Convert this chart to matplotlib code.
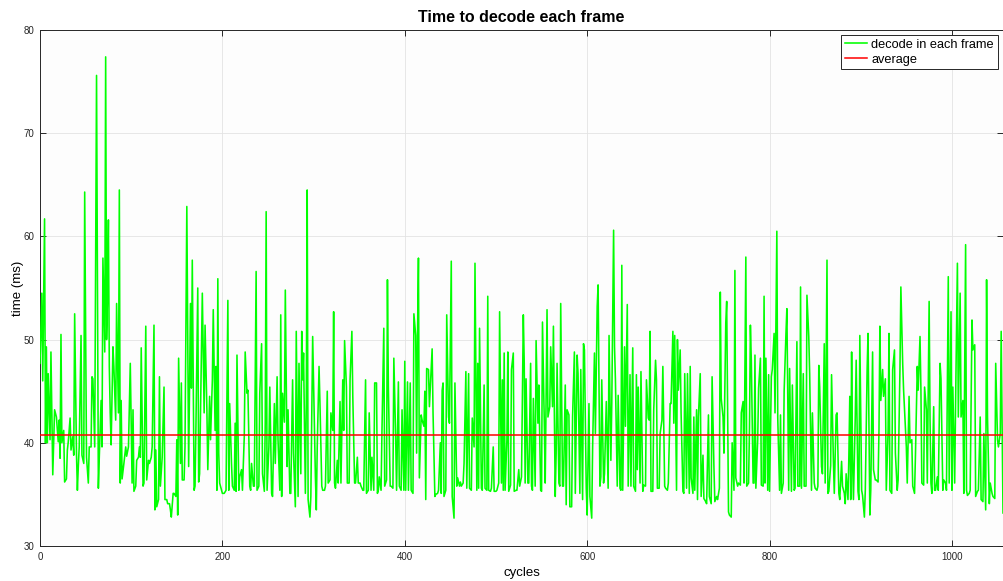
import matplotlib
matplotlib.use("Agg")
import matplotlib.pyplot as plt

plt.rcParams['font.family'] = ['Liberation Sans', 'DejaVu Sans']

cycles = [
    0, 2, 3, 5, 6, 7, 8, 9, 11, 12,
    13, 14, 16, 18, 20, 21, 22, 23, 24, 26,
    27, 29, 30, 31, 33, 34, 36, 37, 38, 40,
    41, 42, 43, 45, 46, 48, 49, 51, 53, 54,
    56, 57, 58, 60, 62, 64, 65, 67, 68, 69,
    71, 72, 73, 74, 75, 76, 77, 78, 80, 81,
    83, 84, 86, 87, 88,
    89, 90, 92, 94, 95, 97, 99, 101, 102, 103,
    105, 106, 108, 109, 110, 111, 113, 114, 116, 117,
    119, 120, 122, 123, 125, 126, 127, 128, 130, 131,
    132, 134, 136, 137, 139, 140, 142, 143, 144, 146,
    147, 149, 150, 151, 152, 154, 155, 156, 158, 159,
    161, 162, 163, 165, 166, 167, 169, 170, 171, 173,
    174,
    175, 176, 178, 180, 181, 183, 184, 186, 187, 189,
    190, 192, 193, 194, 195, 196, 197, 200, 202, 204,
    206, 207, 208, 210, 211, 213, 214, 215, 216, 218,
    219, 221, 222, 224, 225, 227, 228, 230, 231, 232,
    234, 235, 237, 238, 240, 241, 243, 244, 246, 247,
    248, 249, 251, 252, 254, 255, 257, 258, 260, 261,
    263, 264,
    265, 266, 268, 269, 271, 272, 274, 275, 277, 278,
    280, 281, 283, 284, 286, 287, 288, 289, 291, 292,
    293, 294, 296, 297, 299, 300, 302, 303, 304, 306,
    307, 309, 310, 312, 313, 315, 316, 318, 319, 321,
    322, 323, 324, 326, 327, 329, 330, 332, 333, 334,
    336, 337, 339, 340, 342, 343, 345, 346, 348, 349,
    351, 352, 354,
    355, 357, 358, 360, 361, 363, 364, 366, 367, 369,
    370, 371, 372, 374, 375, 377, 378, 380, 381, 382,
    384, 385, 387, 388, 390, 391, 393, 394, 396, 397,
    399, 400, 401, 403, 404, 406, 407, 409, 410, 412,
    413, 414, 415, 416, 418, 419, 421, 422, 423, 424,
    426, 427, 429, 430, 431, 433, 434, 436, 437, 439,
    440, 441,
    442, 443, 445, 446, 448, 449, 451, 452, 454, 455,
    457, 458, 460, 461, 462, 464, 465, 467, 468, 470,
    471, 473, 474, 476, 477, 479, 480, 481, 482, 484,
    485, 487, 488, 490, 491, 492, 494, 495, 497, 498,
    500, 501, 503, 504, 506, 507, 508, 509, 510, 512,
    513, 514, 516, 517, 519, 520, 522, 523, 525, 526,
    528, 530,
    531, 532, 533, 535, 536, 538, 539, 540, 541, 543,
    544, 546, 547, 549, 550, 551, 553, 554, 556, 557,
    559, 560, 562, 563, 565, 566, 567, 569, 570, 571,
    573, 574, 576, 577, 578, 580, 581, 583, 584, 586,
    587, 589, 590, 592, 593, 595, 596, 597, 599, 600,
    602, 603, 605, 606, 608, 609, 611, 612, 614, 615,
    616, 618, 619,
    621, 623, 624, 626, 627, 629, 630, 631, 633, 634,
    636, 637, 638, 639, 641, 642, 644, 645, 647, 648,
    650, 651, 653, 654, 655, 656, 658, 659, 661, 662,
    664, 665, 667, 668, 669, 670, 672, 673, 675, 676,
    677, 679, 680, 682, 683, 685, 686, 688, 689, 691,
    692, 694, 695, 696, 698, 699, 700, 702, 703, 705,
    706, 707,
    709, 710, 712, 713, 714, 716, 717, 718, 720, 721,
    722, 724, 725, 727, 728, 730, 731, 733, 734, 736,
    737, 739, 740, 742, 743, 745, 746, 747, 749, 750,
    752, 753, 755, 756, 758, 759, 761, 762, 763, 765,
    766, 768, 769, 771, 772, 774, 775, 777, 778, 779,
    780, 782, 783, 784, 785, 787, 788, 790, 791, 793,
    794, 795, 796,
    798, 799, 800, 802, 803, 805, 806, 808, 809, 811,
    812, 813, 815, 816, 818, 819, 821, 822, 824, 825,
    827, 828, 830, 831, 833, 834, 835, 837, 838, 840,
    841, 843, 844, 846, 847, 849, 850, 852, 853, 854,
    855, 857, 858, 860, 861, 863, 864, 865, 867, 868,
    870, 871, 873, 874, 876, 877, 879, 880, 882, 883,
    884, 886, 887,
    888, 889, 890, 891, 892, 894, 895, 897, 898, 899,
    901, 902, 904, 905, 907, 908, 910, 911, 913, 914,
    916, 917, 919, 920, 921, 922, 924, 925, 927, 928,
    930, 931, 932, 934, 935, 937, 938, 940, 941, 943,
    944, 946, 947, 948, 950, 951, 953, 954, 956, 957,
    959, 960, 962, 963, 965, 966, 967, 969, 970, 972,
    973, 975, 976,
    977, 978, 980, 981, 982, 984, 985, 987, 988, 990,
    991, 993, 994, 996, 997, 999, 1000, 1001, 1003, 1004,
    1006, 1007, 1009, 1010, 1012, 1013, 1015, 1016, 1017, 1019,
    1020, 1022, 1023, 1025, 1026, 1028, 1029, 1031, 1032, 1034,
    1035, 1037, 1038, 1039, 1041, 1042, 1044, 1045, 1047, 1048,
    1050, 1051, 1053, 1054, 1056,
]

decode_ms = [
    47.7, 54.5, 46.0, 61.7, 40.0, 49.3, 40.0, 46.7, 40.3, 48.8,
    42.9, 36.9, 43.2, 42.5, 40.1, 42.2, 38.5, 50.5, 40.0, 41.2,
    36.2, 36.5, 39.3, 40.1, 42.4, 39.3, 40.6, 38.8, 52.5, 39.0,
    35.4, 37.7, 39.6, 50.4, 38.8, 38.0, 64.3, 38.6, 36.1, 39.6,
    39.6, 46.4, 46.2, 39.6, 75.6, 35.6, 38.6, 44.1, 39.6, 57.9,
    48.8, 77.4, 50.0, 54.3, 61.6, 47.4, 42.9, 39.8, 49.3, 47.4,
    42.2, 53.5, 42.9, 64.5, 36.1,
    44.1, 36.5, 38.0, 39.6, 38.7, 39.6, 47.7, 36.1, 43.2, 35.3,
    35.8, 38.3, 38.6, 39.6, 38.6, 49.2, 35.8, 36.1, 51.3, 36.4,
    38.3, 38.0, 38.6, 39.6, 51.4, 33.5, 39.3, 33.8, 34.5, 46.4,
    35.8, 38.6, 45.4, 34.5, 34.5, 34.1, 34.1, 33.5, 32.8, 35.1,
    35.1, 34.8, 40.3, 33.0, 48.2, 38.0, 45.8, 36.4, 36.4, 39.6,
    62.9, 49.8, 37.7, 53.5, 45.3, 57.7, 35.4, 35.8, 41.6, 55.0,
    36.2,
    37.0, 42.9, 54.5, 42.9, 51.4, 43.2, 37.4, 44.5, 40.3, 46.1,
    52.9, 41.2, 47.4, 35.4, 55.9, 39.0, 36.1, 35.1, 35.1, 35.4,
    53.8, 35.4, 43.8, 38.0, 35.8, 35.4, 41.9, 35.3, 48.5, 35.4,
    36.7, 37.4, 35.4, 40.6, 48.8, 44.8, 45.1, 35.8, 35.4, 38.0,
    35.8, 35.8, 56.6, 35.4, 35.8, 44.8, 49.6, 37.0, 35.3, 41.9,
    62.4, 35.4, 39.6, 45.4, 35.1, 34.8, 43.8, 38.0, 46.4, 40.3,
    35.4, 52.4,
    34.8, 44.8, 42.0, 54.8, 37.7, 43.2, 35.1, 35.1, 46.1, 39.0,
    33.8, 50.8, 34.8, 47.7, 37.0, 50.8, 46.1, 48.7, 35.1, 43.8,
    64.5, 34.5, 32.8, 34.8, 50.3, 45.8, 36.7, 33.5, 39.6, 47.4,
    43.8, 35.8, 35.4, 35.4, 35.8, 45.0, 36.1, 36.4, 42.9, 41.2,
    52.7, 36.1, 35.6, 38.3, 36.1, 44.0, 36.1, 46.1, 41.2, 49.9,
    45.4, 36.1, 36.1, 46.1, 50.8, 44.5, 36.1, 36.1, 38.6, 36.1,
    36.1, 35.8, 35.4,
    35.4, 46.1, 35.1, 35.4, 42.9, 35.4, 38.6, 35.4, 45.8, 45.8,
    35.1, 35.4, 36.7, 35.4, 41.2, 51.1, 35.8, 36.4, 55.8, 45.4,
    35.8, 35.8, 35.6, 48.2, 40.6, 35.4, 45.9, 35.8, 35.4, 43.2,
    35.4, 47.9, 35.4, 45.9, 35.4, 45.8, 35.4, 35.1, 52.5, 50.4,
    39.0, 50.6, 57.9, 36.6, 42.7, 42.2, 41.6, 45.0, 34.5, 47.2,
    47.1, 43.5, 47.1, 49.1, 42.9, 34.8, 35.0, 35.1, 35.4, 40.0,
    35.1, 45.1,
    45.8, 34.8, 35.4, 52.4, 42.5, 41.9, 57.6, 34.8, 32.7, 45.8,
    35.8, 36.6, 35.8, 36.2, 35.8, 36.1, 38.0, 46.9, 35.6, 46.7,
    35.6, 35.4, 42.4, 39.6, 57.4, 35.4, 47.7, 35.6, 51.1, 35.6,
    35.4, 45.6, 35.6, 35.4, 54.2, 35.4, 35.3, 35.6, 39.6, 35.3,
    35.3, 35.4, 36.1, 52.7, 36.1, 46.1, 35.4, 48.7, 35.4, 40.3,
    48.8, 35.3, 35.9, 47.1, 48.7, 35.3, 35.4, 35.4, 37.4, 35.8,
    36.7, 52.4,
    47.7, 36.1, 46.2, 36.1, 36.1, 47.7, 35.8, 35.4, 44.3, 35.8,
    49.9, 41.9, 45.6, 35.4, 35.3, 51.7, 41.9, 36.1, 52.9, 42.5,
    43.5, 49.3, 43.5, 51.3, 34.8, 39.0, 47.7, 36.1, 35.8, 53.5,
    35.8, 35.8, 45.6, 34.0, 43.2, 42.7, 33.8, 33.8, 42.5, 48.8,
    35.1, 48.5, 46.7, 35.1, 47.1, 34.5, 49.6, 49.0, 35.6, 33.0,
    43.8, 34.8, 32.7, 39.6, 48.7, 40.9, 53.2, 55.3, 35.8, 36.7,
    46.1, 36.1, 37.0,
    44.0, 35.6, 50.4, 38.3, 43.8, 60.6, 49.3, 46.1, 35.8, 44.6,
    35.6, 35.4, 57.2, 35.4, 49.3, 41.6, 53.4, 35.8, 46.6, 35.8,
    49.2, 35.8, 35.3, 46.6, 37.4, 45.4, 36.1, 46.9, 35.3, 35.9,
    35.8, 46.1, 42.4, 42.2, 50.8, 35.3, 35.3, 43.2, 48.0, 46.1,
    35.6, 35.6, 40.9, 42.2, 47.4, 35.8, 35.6, 35.4, 36.1, 43.8,
    43.8, 50.8, 41.9, 50.4, 35.4, 50.0, 45.1, 49.0, 42.9, 35.3,
    35.1, 46.7,
    35.6, 46.7, 35.1, 47.4, 36.6, 35.1, 42.5, 35.4, 43.2, 34.5,
    42.5, 46.7, 34.8, 38.8, 34.6, 34.3, 34.1, 42.7, 34.8, 34.1,
    46.4, 37.7, 34.3, 34.8, 34.5, 35.6, 54.6, 44.3, 42.5, 39.0,
    51.6, 53.7, 33.3, 33.0, 32.8, 40.0, 35.4, 56.7, 36.6, 35.8,
    36.1, 35.9, 42.9, 44.0, 36.1, 58.0, 35.8, 36.1, 41.4, 51.4,
    48.0, 36.1, 36.1, 48.5, 35.6, 40.3, 45.3, 48.2, 35.9, 35.8,
    54.2, 36.1, 48.2,
    35.4, 46.6, 35.3, 46.4, 47.1, 50.6, 42.9, 60.5, 42.4, 35.4,
    42.7, 35.1, 36.1, 45.0, 50.6, 53.0, 35.4, 47.2, 35.3, 45.6,
    35.4, 35.6, 49.8, 35.8, 35.8, 55.1, 35.6, 46.7, 35.8, 35.8,
    54.3, 50.3, 46.7, 35.4, 42.9, 36.1, 35.6, 35.4, 35.8, 47.5,
    45.4, 37.7, 37.0, 49.6, 36.1, 57.7, 35.1, 35.3, 37.8, 46.6,
    38.3, 35.1, 42.7, 42.9, 35.1, 34.5, 38.2, 35.8, 35.1, 34.1,
    37.0, 34.5, 38.8,
    44.5, 34.5, 48.8, 38.3, 34.5, 42.5, 48.0, 35.3, 34.5, 50.4,
    35.4, 34.9, 32.8, 35.4, 47.1, 50.6, 33.0, 35.4, 48.8, 37.4,
    36.4, 36.4, 36.2, 41.2, 51.3, 44.1, 47.1, 44.5, 46.2, 35.4,
    41.2, 50.6, 35.4, 35.1, 47.1, 49.0, 39.0, 35.4, 36.4, 47.1,
    55.1, 47.7, 45.1, 43.2, 39.6, 36.1, 44.5, 40.0, 40.3, 35.8,
    35.1, 38.8, 47.4, 45.1, 50.3, 45.1, 36.1, 35.9, 45.4, 43.2,
    36.1, 53.7, 42.2,
    36.1, 35.1, 43.5, 35.4, 35.4, 36.7, 35.4, 47.7, 46.2, 35.4,
    36.4, 36.1, 35.4, 56.1, 36.1, 52.7, 35.4, 45.4, 36.1, 43.8,
    57.4, 42.5, 54.5, 42.5, 44.1, 35.1, 59.2, 35.4, 34.9, 35.1,
    35.4, 51.9, 49.0, 49.5, 34.8, 35.3, 35.4, 42.5, 34.5, 34.3,
    40.9, 33.5, 55.8, 42.5, 34.1, 36.1, 35.1, 34.8, 34.6, 47.7,
    40.3, 39.6, 40.9, 50.8, 33.2,
]

average_ms = 40.8
x_ticks = [0, 200, 400, 600, 800, 1000]
y_ticks = [30, 40, 50, 60, 70, 80]

fig = plt.figure(figsize=(10.04, 5.81), dpi=100)
ax = fig.add_axes([40 / 1004, 1 - 546 / 581, (1003 - 40) / 1004, (546 - 30) / 581])
ax.set_facecolor('#fdfdfd')

ax.plot(cycles, decode_ms, color='#00ff00', lw=1.15, label='decode in each frame', zorder=3)
ax.axhline(average_ms, color='#ff0000', lw=1.1, label='average', zorder=4)

ax.set_xlim(0, 1056)
ax.set_ylim(30, 80)
ax.set_xticks(x_ticks)
ax.set_yticks(y_ticks)
ax.grid(True, color='#e3e3e3', lw=0.6, zorder=0)
ax.set_axisbelow(True)
ax.tick_params(direction='in', length=4, width=0.7, colors='#262626', labelsize=7,
               top=True, right=True, pad=4)
for s in ax.spines.values():
    s.set_color('#262626')
    s.set_linewidth(0.7)

ax.set_title('Time to decode each frame', fontsize=11.5, fontweight='bold', pad=6)
ax.set_xlabel('cycles', fontsize=9.5, labelpad=4)
ax.set_ylabel('time (ms)', fontsize=9.5, labelpad=0)

leg = ax.legend(loc='upper right', fontsize=9.2, fancybox=False, framealpha=1,
                edgecolor='#262626', borderaxespad=0.4, handlelength=1.7,
                handletextpad=0.35, borderpad=0.3, labelspacing=0.2)
leg.get_frame().set_linewidth(0.7)

fig.savefig('out.png', dpi=100)
